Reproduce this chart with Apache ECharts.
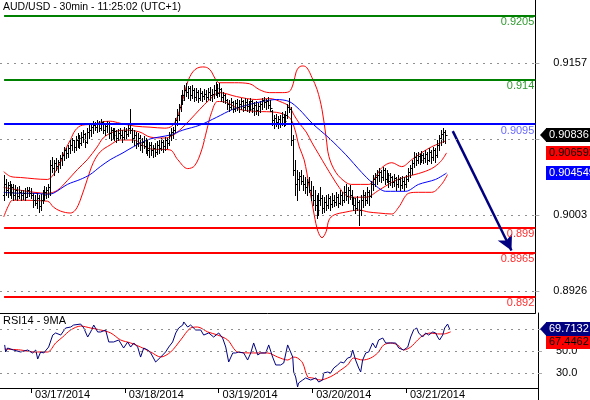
<!DOCTYPE html>
<html><head><meta charset="utf-8">
<script src="https://cdn.jsdelivr.net/npm/echarts@6/dist/echarts.min.js"></script>
<style>html,body{margin:0;padding:0;background:#fff}#c{width:590px;height:400px}</style>
</head><body><div id="c"></div>
<script>
// ---- DATA ----
const titleText = 'AUD/USD - 30min - 11:25:02 (UTC+1)';
const rsiTitle = 'RSI14 - 9MA';
const dayTicks = [14, 62, 110, 158, 206];
const dayLabels = ['03/17/2014', '03/18/2014', '03/19/2014', '03/20/2014', '03/21/2014'];
const priceTicks = [0.8926, 0.9003, 0.9080, 0.9157];
const priceLabels = [0.8926, 0.9003, 0.9157];
const rsiTicks = [30, 50, 70];
const rsiLabels = [30, 50];

const barOpen = [0.9023,0.9034,0.9028,0.9033,0.9026,0.9031,0.9023,0.9028,0.9022,0.9026,0.9023,0.9025,0.9021,0.9028,0.9025,0.9023,0.9018,0.9015,0.9020,0.9012,
0.9018,0.9023,0.9026,0.9028,0.9031,0.9054,0.9051,0.9056,0.9053,0.9057,0.9061,0.9064,0.9069,0.9066,0.9071,0.9074,0.9079,0.9072,0.9079,0.9081,
0.9076,0.9082,0.9085,0.9077,0.9087,0.9089,0.9092,0.9094,0.9092,0.9096,0.9091,0.9097,0.9089,0.9093,0.9095,0.9086,0.9089,0.9084,0.9088,0.9081,
0.9086,0.9084,0.9082,0.9088,0.9085,0.9091,0.9089,0.9081,0.9084,0.9076,0.9081,0.9074,0.9077,0.9073,0.9071,0.9069,0.9074,0.9069,0.9071,0.9067,
0.9074,0.9071,0.9077,0.9073,0.9079,0.9076,0.9084,0.9087,0.9089,0.9099,0.9104,0.9112,0.9120,0.9125,0.9130,0.9128,0.9132,0.9125,0.9130,0.9123,
0.9128,0.9122,0.9127,0.9124,0.9126,0.9123,0.9128,0.9125,0.9126,0.9130,0.9132,0.9127,0.9131,0.9123,0.9125,0.9120,0.9115,0.9112,0.9117,0.9110,
0.9116,0.9112,0.9115,0.9118,0.9112,0.9117,0.9113,0.9110,0.9118,0.9111,0.9114,0.9109,0.9113,0.9115,0.9120,0.9117,0.9119,0.9114,0.9108,0.9099,
0.9101,0.9097,0.9100,0.9095,0.9102,0.9098,0.9104,0.9112,0.9110,0.9079,0.9049,0.9034,0.9039,0.9043,0.9037,0.9034,0.9031,0.9036,0.9028,0.9023,
0.9018,0.9013,0.9008,0.9018,0.9020,0.9010,0.9016,0.9013,0.9020,0.9014,0.9018,0.9016,0.9021,0.9015,0.9023,0.9018,0.9026,0.9022,0.9028,0.9023,
0.9020,0.9013,0.9010,0.9016,0.9008,0.9018,0.9023,0.9018,0.9026,0.9022,0.9034,0.9039,0.9041,0.9044,0.9047,0.9042,0.9049,0.9039,0.9044,0.9037,
0.9041,0.9036,0.9040,0.9034,0.9039,0.9033,0.9037,0.9034,0.9039,0.9047,0.9051,0.9056,0.9062,0.9059,0.9063,0.9059,0.9064,0.9061,0.9065,0.9059,
0.9067,0.9062,0.9069,0.9064,0.9074,0.9081,0.9085,0.9087];
const barHigh = [0.9044,0.9039,0.9036,0.9037,0.9034,0.9034,0.9033,0.9031,0.9032,0.9028,0.9028,0.9030,0.9031,0.9031,0.9030,0.9025,0.9023,0.9025,0.9023,0.9024,
0.9028,0.9032,0.9031,0.9034,0.9059,0.9062,0.9059,0.9061,0.9059,0.9064,0.9067,0.9072,0.9071,0.9074,0.9079,0.9081,0.9079,0.9083,0.9086,0.9084,
0.9087,0.9089,0.9086,0.9091,0.9094,0.9095,0.9098,0.9097,0.9099,0.9098,0.9100,0.9098,0.9096,0.9098,0.9097,0.9092,0.9091,0.9091,0.9089,0.9090,
0.9091,0.9089,0.9092,0.9091,0.9094,0.9110,0.9091,0.9089,0.9087,0.9086,0.9084,0.9081,0.9083,0.9081,0.9079,0.9077,0.9077,0.9074,0.9076,0.9078,
0.9079,0.9081,0.9079,0.9082,0.9081,0.9087,0.9091,0.9092,0.9101,0.9110,0.9115,0.9125,0.9130,0.9135,0.9137,0.9134,0.9134,0.9135,0.9132,0.9132,
0.9130,0.9132,0.9129,0.9131,0.9130,0.9132,0.9133,0.9131,0.9135,0.9138,0.9136,0.9137,0.9132,0.9128,0.9126,0.9121,0.9120,0.9122,0.9119,0.9120,
0.9121,0.9120,0.9122,0.9120,0.9122,0.9121,0.9119,0.9122,0.9120,0.9117,0.9118,0.9116,0.9119,0.9122,0.9123,0.9121,0.9123,0.9120,0.9109,0.9104,
0.9105,0.9103,0.9104,0.9107,0.9105,0.9108,0.9115,0.9122,0.9112,0.9084,0.9059,0.9049,0.9047,0.9049,0.9044,0.9041,0.9039,0.9042,0.9037,0.9032,
0.9028,0.9023,0.9025,0.9031,0.9023,0.9021,0.9023,0.9024,0.9022,0.9025,0.9023,0.9026,0.9024,0.9028,0.9026,0.9032,0.9034,0.9031,0.9033,0.9028,
0.9021,0.9020,0.9022,0.9018,0.9023,0.9028,0.9026,0.9031,0.9028,0.9037,0.9044,0.9046,0.9049,0.9051,0.9049,0.9052,0.9051,0.9049,0.9046,0.9046,
0.9043,0.9045,0.9042,0.9044,0.9041,0.9043,0.9041,0.9044,0.9051,0.9054,0.9059,0.9067,0.9066,0.9067,0.9065,0.9068,0.9066,0.9069,0.9067,0.9071,
0.9069,0.9072,0.9071,0.9079,0.9084,0.9089,0.9091,0.9089];
const barLow = [0.9018,0.9023,0.9021,0.9023,0.9020,0.9018,0.9019,0.9018,0.9020,0.9018,0.9019,0.9018,0.9021,0.9022,0.9020,0.9011,0.9013,0.9010,0.9006,0.9008,
0.9015,0.9018,0.9020,0.9021,0.9023,0.9047,0.9044,0.9049,0.9047,0.9051,0.9054,0.9059,0.9061,0.9062,0.9066,0.9069,0.9067,0.9069,0.9072,0.9071,
0.9074,0.9077,0.9072,0.9076,0.9081,0.9083,0.9086,0.9089,0.9087,0.9088,0.9089,0.9086,0.9084,0.9087,0.9081,0.9079,0.9081,0.9079,0.9077,0.9079,
0.9081,0.9077,0.9080,0.9081,0.9083,0.9086,0.9077,0.9074,0.9071,0.9073,0.9069,0.9067,0.9071,0.9066,0.9064,0.9062,0.9064,0.9062,0.9063,0.9065,
0.9066,0.9069,0.9067,0.9069,0.9071,0.9074,0.9079,0.9081,0.9087,0.9094,0.9099,0.9108,0.9115,0.9120,0.9124,0.9122,0.9120,0.9122,0.9118,0.9120,
0.9117,0.9120,0.9119,0.9121,0.9119,0.9121,0.9120,0.9118,0.9122,0.9125,0.9123,0.9124,0.9119,0.9117,0.9116,0.9110,0.9108,0.9110,0.9107,0.9108,
0.9109,0.9107,0.9110,0.9108,0.9109,0.9108,0.9107,0.9109,0.9107,0.9104,0.9105,0.9104,0.9107,0.9110,0.9112,0.9110,0.9111,0.9108,0.9094,0.9091,
0.9093,0.9091,0.9092,0.9094,0.9093,0.9094,0.9101,0.9107,0.9074,0.9044,0.9023,0.9018,0.9028,0.9034,0.9028,0.9025,0.9023,0.9026,0.9018,0.9013,
0.9008,0.9000,0.9003,0.9013,0.9005,0.9006,0.9008,0.9010,0.9008,0.9011,0.9012,0.9013,0.9011,0.9014,0.9013,0.9016,0.9018,0.9015,0.9019,0.9014,
0.9008,0.9005,0.9008,0.8993,0.9003,0.9011,0.9013,0.9015,0.9013,0.9021,0.9028,0.9032,0.9034,0.9037,0.9036,0.9038,0.9034,0.9036,0.9031,0.9033,
0.9031,0.9032,0.9028,0.9031,0.9028,0.9030,0.9028,0.9031,0.9037,0.9041,0.9045,0.9052,0.9054,0.9056,0.9055,0.9057,0.9056,0.9057,0.9055,0.9058,
0.9056,0.9059,0.9057,0.9062,0.9069,0.9074,0.9077,0.9076];
const barClose = [0.9034,0.9028,0.9033,0.9026,0.9031,0.9023,0.9028,0.9022,0.9026,0.9023,0.9025,0.9021,0.9028,0.9025,0.9023,0.9018,0.9015,0.9020,0.9012,0.9018,
0.9023,0.9026,0.9028,0.9031,0.9054,0.9051,0.9056,0.9053,0.9057,0.9061,0.9064,0.9069,0.9066,0.9071,0.9074,0.9079,0.9072,0.9079,0.9081,0.9076,
0.9082,0.9085,0.9077,0.9087,0.9089,0.9092,0.9094,0.9092,0.9096,0.9091,0.9097,0.9089,0.9093,0.9095,0.9086,0.9089,0.9084,0.9088,0.9081,0.9086,
0.9084,0.9082,0.9088,0.9085,0.9091,0.9089,0.9081,0.9084,0.9076,0.9081,0.9074,0.9077,0.9073,0.9071,0.9069,0.9074,0.9069,0.9071,0.9067,0.9074,
0.9071,0.9077,0.9073,0.9079,0.9076,0.9084,0.9087,0.9089,0.9099,0.9104,0.9112,0.9120,0.9125,0.9130,0.9128,0.9132,0.9125,0.9130,0.9123,0.9128,
0.9122,0.9127,0.9124,0.9126,0.9123,0.9128,0.9125,0.9126,0.9130,0.9132,0.9127,0.9131,0.9123,0.9125,0.9120,0.9115,0.9112,0.9117,0.9110,0.9116,
0.9112,0.9115,0.9118,0.9112,0.9117,0.9113,0.9110,0.9118,0.9111,0.9114,0.9109,0.9113,0.9115,0.9120,0.9117,0.9119,0.9114,0.9111,0.9099,0.9101,
0.9097,0.9100,0.9095,0.9102,0.9098,0.9104,0.9112,0.9110,0.9079,0.9049,0.9034,0.9039,0.9043,0.9037,0.9034,0.9031,0.9036,0.9028,0.9023,0.9018,
0.9013,0.9008,0.9018,0.9020,0.9010,0.9016,0.9013,0.9020,0.9014,0.9018,0.9016,0.9021,0.9015,0.9023,0.9018,0.9026,0.9022,0.9028,0.9023,0.9020,
0.9013,0.9010,0.9016,0.9008,0.9018,0.9023,0.9018,0.9026,0.9022,0.9034,0.9039,0.9041,0.9044,0.9047,0.9042,0.9049,0.9039,0.9044,0.9037,0.9041,
0.9036,0.9040,0.9034,0.9039,0.9033,0.9037,0.9034,0.9039,0.9047,0.9051,0.9056,0.9062,0.9059,0.9063,0.9059,0.9064,0.9061,0.9065,0.9059,0.9067,
0.9062,0.9069,0.9064,0.9074,0.9081,0.9085,0.9087,0.90836];

const upperBand = [[0,0.9047],[3.6,0.9042],[8.7,0.9041],[22.5,0.9039],[25.6,0.9044],[29.2,0.9056],[31.7,0.9069],[34.3,0.9079],[36.9,0.9089],[40.4,0.9094],[47.1,0.9095],[49.7,0.9097],[54.8,0.9098],[59.9,0.9096],[67.6,0.9093],[75.3,0.9092],[82.9,0.9091],[86.5,0.9093],[89.1,0.9101],[92.2,0.9120],[94.7,0.9138],[97.3,0.9148],[99.8,0.9152],[102.4,0.9153],[105,0.9152],[107,0.9148],[109.1,0.9140],[111.1,0.9137],[118.8,0.9137],[126.5,0.9136],[131.6,0.9130],[136.7,0.9127],[143.4,0.9127],[146.9,0.9128],[149,0.9136],[150.5,0.9148],[152.1,0.9153],[154.1,0.9154],[156.1,0.9152],[158.7,0.9142],[161.3,0.9130],[163.8,0.9110],[165.9,0.9082],[167.4,0.9062],[171,0.9046],[176.1,0.9036],[179.2,0.9034],[187.9,0.9034],[191.5,0.9042],[194.6,0.9051],[199.7,0.9056],[204.8,0.9052],[209.9,0.9059],[215,0.9066],[220.1,0.9072],[227.3,0.9078]];
const middleBand = [[0,0.9031],[8.7,0.9028],[22.5,0.9025],[27.6,0.9028],[32.8,0.9038],[37.9,0.9049],[43,0.9059],[48.1,0.9072],[51.2,0.9081],[56.3,0.9087],[63.5,0.9089],[70.1,0.9087],[75.3,0.9082],[82.9,0.9081],[86.5,0.9083],[90.6,0.9089],[95.7,0.9099],[100.9,0.9110],[106,0.9120],[111.1,0.9127],[119.8,0.9123],[130,0.9120],[136.7,0.9121],[143.4,0.9117],[146.9,0.9113],[149.5,0.9104],[152.1,0.9096],[155.7,0.9087],[158.7,0.9076],[162.3,0.9064],[165.9,0.9052],[169,0.9042],[172.6,0.9031],[176.1,0.9023],[179.2,0.9021],[186.4,0.9021],[193,0.9028],[199.7,0.9036],[205.8,0.9041],[213.5,0.9045],[220.2,0.9050],[224.8,0.9057],[227.9,0.906592]];
const lowerBand = [[0,0.9001],[2.6,0.9013],[4.6,0.9018],[22.5,0.9017],[25.6,0.9011],[29.2,0.9007],[34.3,0.9005],[36.9,0.9008],[39.4,0.9018],[43,0.9039],[46.1,0.9056],[49.7,0.9067],[54.8,0.9074],[59.9,0.9079],[66.6,0.9079],[75.3,0.9070],[85.5,0.9069],[89.6,0.9059],[94.7,0.9050],[98.3,0.9053],[101.9,0.9069],[104.5,0.9089],[107,0.9107],[110.1,0.9118],[114.7,0.9117],[121.4,0.9110],[130,0.9108],[140.3,0.9107],[146.9,0.9102],[149.5,0.9092],[152.1,0.9072],[154.6,0.9059],[157.2,0.9032],[159.8,0.9003],[161.8,0.8986],[163.8,0.8980],[165.9,0.8986],[167.4,0.8998],[170,0.9003],[176.1,0.9006],[182.8,0.9008],[187.9,0.9006],[193,0.9005],[199.7,0.9004],[203.3,0.9011],[208.4,0.9025],[213.5,0.9026],[220.2,0.9026],[225.3,0.9034],[228.4,0.9044]];
const blueMA = [[0,0.9026],[8.7,0.9025],[15.4,0.9025],[22.5,0.9024],[25.6,0.9025],[32.8,0.9034],[39.4,0.9039],[44.5,0.9044],[49.7,0.9052],[54.8,0.9059],[61.4,0.9066],[66.6,0.9072],[75.3,0.9080],[85.5,0.9084],[92.2,0.9089],[100.9,0.9094],[109.6,0.9102],[117.8,0.9110],[126.5,0.9115],[133.1,0.9118],[140.3,0.9120],[146.9,0.9118],[152.1,0.9110],[158.7,0.9096],[167.4,0.9081],[176.1,0.9064],[184.3,0.9046],[189.5,0.9036],[196.6,0.9027],[206.9,0.9027],[213.5,0.9034],[222.2,0.9039],[227.9,0.904549]];

const rsiLine = [[0.5,55.5],[1,49.1],[2,52.7],[5,50.9],[8.7,49.1],[12.3,50.9],[14.8,48.2],[16.4,50.9],[17.4,42.7],[18.9,49.1],[20.5,48.2],[23,53.6],[25.1,64.5],[26.6,66.4],[29.2,64.5],[31.7,70.9],[34.3,71.8],[35.8,73.6],[39.4,74.5],[41,70.9],[43,62.7],[44.5,67.3],[46.1,73.6],[48.1,67.3],[49.7,67.3],[52.2,69.1],[53.8,58.2],[56.3,58.2],[58.9,60],[61.4,52.7],[63.5,58.2],[65,53.6],[66.6,57.3],[68.6,53.6],[70.1,44.5],[71.7,52.7],[73.7,50.9],[75.3,48.2],[77.8,40],[80.4,44.5],[82.9,49.1],[84.5,53.6],[86.5,58.2],[88.1,66.4],[89.6,70.9],[91.7,73.6],[92.2,76.4],[94.2,71.8],[95.7,73.6],[98.3,69.1],[100.9,69.1],[102.4,64.5],[105,66.4],[107.5,62.7],[110.1,66.4],[112.1,61.8],[113.7,53.6],[115.2,40],[117.3,48.2],[118.8,48.2],[120.3,49.1],[122.9,48.2],[124.9,41.8],[126.5,48.2],[128,57.3],[130.1,46.4],[131.6,48.2],[134.2,48.2],[135.7,55.5],[137.7,44.5],[139.3,37.3],[141.8,37.3],[143.4,39.1],[145.4,55.5],[146.4,57.3],[148,44.5],[148.5,30.9],[149.5,26.4],[150.5,17.3],[151,20.9],[153.1,23.6],[154.6,25.5],[157.2,23.6],[159.8,25.5],[161.3,21.8],[163.3,23.6],[163.8,30],[165.9,30.9],[167.4,30],[169,34.5],[171,37.3],[172.6,40],[174.1,39.1],[176.1,43.6],[177.7,44.5],[178.7,50.9],[180.2,41.8],[181.8,34.5],[182.8,30.9],[183.8,41.8],[185.4,48.2],[186.9,49.1],[188.9,57.3],[190.5,52.7],[192,60],[194.1,61.8],[195.6,57.3],[198.2,57.3],[200.7,57.3],[202.3,52.7],[204.8,50.9],[206.9,53.6],[208.4,62.7],[209.9,69.1],[211.5,70.9],[212.5,66.4],[214.5,62.7],[216.1,66.4],[217.6,64.5],[219.7,67.3],[221.2,66.4],[222.2,62.7],[223.2,60],[224.8,64.5],[225.8,70.9],[227.3,74.5],[228.4,69.7132]];
const rsiMA = [[0.5,51.8],[8.7,50.9],[15.4,49.1],[22.5,49.1],[26.6,57.3],[30.2,62.7],[34.3,69.1],[39.4,72.7],[44.5,70.9],[49.7,69.1],[54.8,66.4],[59.9,60],[65,57.3],[70.1,53.6],[75.3,49.1],[80.4,44.5],[85.5,49.1],[90.6,60],[95.7,70.9],[99.3,71.8],[104.5,67.3],[109.6,64.5],[114.7,60],[119.8,49.1],[128,48.2],[135.2,48.2],[140.3,44.5],[145.4,41.8],[148.5,44.5],[150.5,43.6],[153.1,39.1],[155.7,26.4],[158.2,25.5],[162.3,23.6],[165.9,25.5],[169,28.2],[172.6,32.7],[176.1,37.3],[179.2,43.6],[183.8,41.8],[187.9,43.6],[191.5,48.2],[194.6,55.5],[198.2,57.3],[201.7,55.5],[204.8,50.9],[208.4,53.6],[212,60],[215,64.5],[218.6,66.4],[222.2,65.5],[225.3,65.5],[228.9,67.4462]];

const levelValues = [0.9205, 0.914, 0.9095, 0.899, 0.8965, 0.892];
const levelLabels = ['0.9205', '0.914', '0.9095', '0.899', '0.8965', '0.892'];
const levelColors = ['#008000', '#008000', '#0000ff', '#ff0000', '#ff0000', '#ff0000'];
const levelTextColors = ['#2f9a2f', '#2f9a2f', '#6a6aff', '#ff3030', '#ff3030', '#ff3030'];
const arrowFrom = [231.1, 0.9088];
const arrowTo = [261.3, 0.8967];
const lastClose = 0.90836;
const lastMid = 0.906592;
const lastMA = 0.904549;
const rsiLast = 69.7132;
const rsiMALast = 67.4462;

// ---- CHART ----
const X_MIN = -1.9, X_MAX = 273.6;
const FONT = 'Liberation Sans';
const chart = echarts.init(document.getElementById('c'), null, {renderer: 'canvas'});
const ohlc = barOpen.map((o, i) => [i, o, barClose[i], barLow[i], barHigh[i]]);

const levelLines = levelValues.map((v, k) => [
  {coord: [0.2, v], lineStyle: {color: levelColors[k], width: 2, type: 'solid'},
   label: {show: true, position: 'insideEndBottom', formatter: levelLabels[k], color: levelTextColors[k],
     fontSize: 11, fontFamily: FONT, distance: [1, 1]}},
  {coord: [X_MAX, v]}
]);
const dotStyle = {color: '#909090', type: [2, 5], width: 1};
const gridDots = (vals) => vals.map(v => [
  {coord: [X_MIN, v], lineStyle: dotStyle, label: {show: false}},
  {coord: [X_MAX, v]}
]);

const axisLineStyle = {show: true, onZero: false, lineStyle: {color: '#000'}};

const option = {
  animation: false,
  textStyle: {fontFamily: FONT},
  title: [
    {text: titleText, left: 3, top: 2, padding: 0, textStyle: {fontSize: 10.5, fontWeight: 'normal', color: '#000', fontFamily: FONT}},
    {text: rsiTitle, left: 3, top: 315, padding: 0, textStyle: {fontSize: 11, fontWeight: 'normal', color: '#000', fontFamily: FONT}}
  ],
  grid: [
    {left: 0, top: 0, width: 538, height: 313},
    {left: 0, top: 313, width: 538, height: 75}
  ],
  xAxis: [
    {type: 'value', gridIndex: 0, min: X_MIN, max: X_MAX,
     axisLine: axisLineStyle, axisTick: {show: false}, axisLabel: {show: false}, splitLine: {show: false}},
    {type: 'value', gridIndex: 1, min: X_MIN, max: X_MAX,
     axisLine: axisLineStyle,
     axisTick: {show: true, customValues: dayTicks, length: 5, lineStyle: {color: '#000'}},
     axisLabel: {show: true, customValues: dayTicks, align: 'left', margin: 1, padding: [0, 0, 0, 4],
       fontSize: 11, color: '#000', fontFamily: FONT,
       formatter: v => dayLabels[dayTicks.indexOf(Math.round(v))] || ''},
     splitLine: {show: false}}
  ],
  yAxis: [
    {type: 'value', gridIndex: 0, position: 'right', min: 0.890371, max: 0.922083,
     axisLine: axisLineStyle,
     axisTick: {show: true, customValues: priceTicks, length: 4, lineStyle: {color: '#aaa'}},
     axisLabel: {show: true, customValues: priceLabels, margin: 18, fontSize: 11, color: '#000', fontFamily: FONT,
       formatter: v => v.toFixed(4)},
     splitLine: {show: false}},
    {type: 'value', gridIndex: 1, position: 'right', min: 16.364, max: 84.545,
     axisLine: axisLineStyle,
     axisTick: {show: true, customValues: rsiTicks, length: 4, lineStyle: {color: '#aaa'}},
     axisLabel: {show: true, customValues: rsiLabels, margin: 18, fontSize: 11, color: '#000', fontFamily: FONT,
       formatter: v => v.toFixed(1)},
     splitLine: {show: false}}
  ],
  series: [
    {name: 'upper', type: 'line', xAxisIndex: 0, yAxisIndex: 0, data: upperBand, showSymbol: false, smooth: 0.35,
     lineStyle: {color: '#ff0000', width: 1}, silent: true, z: 3,
     markLine: {silent: true, symbol: ['none', 'none'], animation: false, emphasis: {disabled: true}, data: levelLines}},
    {name: 'middle', type: 'line', xAxisIndex: 0, yAxisIndex: 0, data: middleBand, showSymbol: false, smooth: 0.35,
     lineStyle: {color: '#ff0000', width: 1}, silent: true, z: 3,
     markLine: {silent: true, animation: false, emphasis: {disabled: true}, symbol: ['none', 'arrow'], symbolSize: [12, 15],
       data: [
         [{coord: arrowFrom, lineStyle: {color: '#000080', width: 2.5, type: 'solid'}, label: {show: false}}, {coord: arrowTo}]
       ]}},
    {name: 'lower', type: 'line', xAxisIndex: 0, yAxisIndex: 0, data: lowerBand, showSymbol: false, smooth: 0.35,
     lineStyle: {color: '#ff0000', width: 1}, silent: true, z: 3,
     markLine: {silent: true, symbol: ['none', 'none'], animation: false, emphasis: {disabled: true}, data: gridDots(priceTicks)}},
    {name: 'ma', type: 'line', xAxisIndex: 0, yAxisIndex: 0, data: blueMA, showSymbol: false, smooth: 0.3,
     lineStyle: {color: '#0000ff', width: 1}, silent: true, z: 3},
    {name: 'bars', type: 'custom', xAxisIndex: 0, yAxisIndex: 0, data: ohlc, silent: true, z: 4, clip: true,
     encode: {x: 0, y: [1, 2, 3, 4]},
     renderItem: function (params, api) {
       const x = api.value(0);
       const pO = api.coord([x, api.value(1)]);
       const pC = api.coord([x, api.value(2)]);
       const pL = api.coord([x, api.value(3)]);
       const pH = api.coord([x, api.value(4)]);
       const px = Math.round(pH[0]) + 0.5;
       const yo = Math.round(pO[1]) + 0.5, yc = Math.round(pC[1]) + 0.5;
       const st = {stroke: '#000', lineWidth: 1};
       return {type: 'group', children: [
         {type: 'line', shape: {x1: px, y1: Math.round(pH[1]), x2: px, y2: Math.round(pL[1]) + 1}, style: st},
         {type: 'line', shape: {x1: px - 1.5, y1: yo, x2: px, y2: yo}, style: st},
         {type: 'line', shape: {x1: px, y1: yc, x2: px + 2, y2: yc}, style: st}
       ]};
     }},
    {name: 'rsi', type: 'line', xAxisIndex: 1, yAxisIndex: 1, data: rsiLine, showSymbol: false,
     lineStyle: {color: '#000080', width: 1}, silent: true, z: 4},
    {name: 'rsima', type: 'line', xAxisIndex: 1, yAxisIndex: 1, data: rsiMA, showSymbol: false, smooth: 0.3,
     lineStyle: {color: '#ff0000', width: 1}, silent: true, z: 3,
     markLine: {silent: true, symbol: ['none', 'none'], animation: false, emphasis: {disabled: true}, data: gridDots(rsiTicks)}}
  ]
};
chart.setOption(option);

// value badges on the right edge, positioned through the axis scales
function badgeEl(axisIdx, value, bg, fg, arrow, dy) {
  const y = Math.round(chart.convertToPixel({yAxisIndex: axisIdx}, value)) + (dy || 0);
  const els = [{type: 'rect', shape: {x: 546, y: y - 7, width: 50, height: 14}, style: {fill: bg}, z: 100},
    {type: 'text', x: 549, y: y, style: {text: String(value), fill: fg, font: '11px "Liberation Sans"',
      textVerticalAlign: 'middle', verticalAlign: 'middle', align: 'left'}, z: 101}];
  if (arrow) els.push({type: 'polygon', shape: {points: [[540, y], [546.5, y - 7], [546.5, y + 7]]}, style: {fill: bg}, z: 100});
  return els;
}
chart.setOption({graphic: [].concat(
  badgeEl(0, lastClose, '#000', '#fff', true),
  badgeEl(0, lastMid, '#ff0000', '#000', false),
  badgeEl(0, lastMA, '#0000ff', '#fff', false),
  badgeEl(1, rsiMALast, '#ff0000', '#000', false, 10),
  badgeEl(1, rsiLast, '#000080', '#fff', true),
  [{type: 'line', shape: {x1: 538.5, y1: 388, x2: 538.5, y2: 400}, style: {stroke: '#000', lineWidth: 1}}]
)});
</script></body></html>
